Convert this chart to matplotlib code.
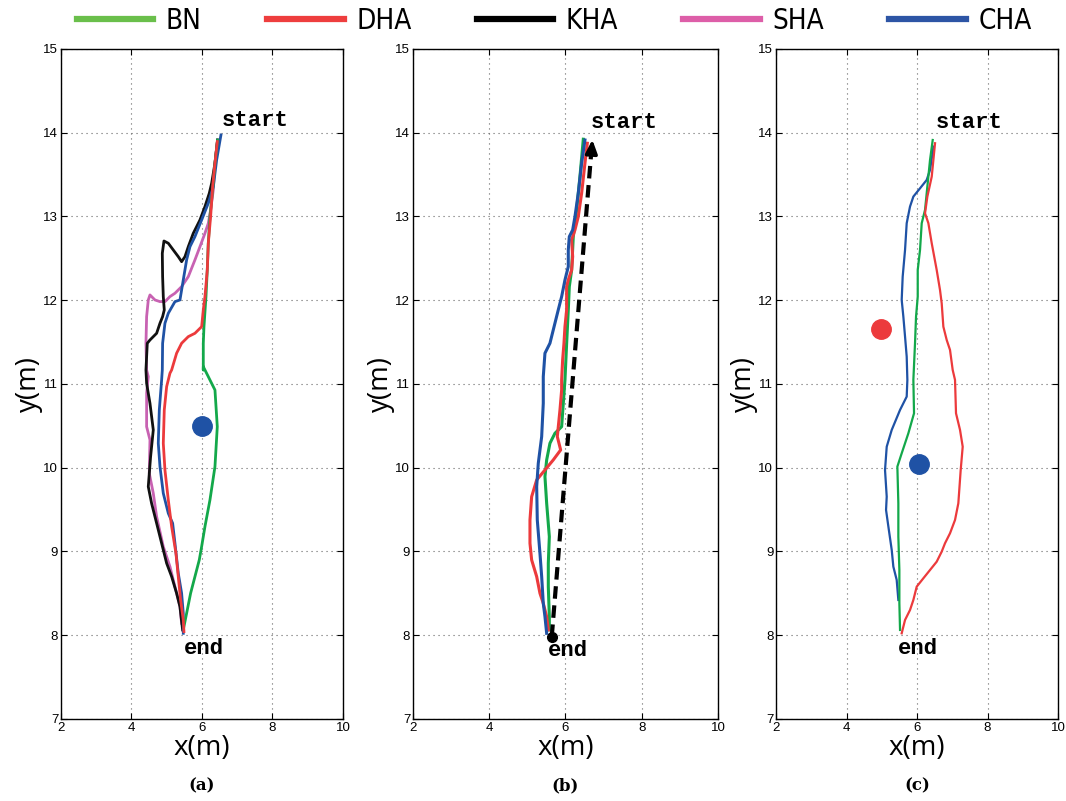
import numpy as np
import matplotlib.pyplot as plt
from matplotlib.lines import Line2D

# colours
c_bn = '#13a84a'
c_dha = '#ec3a3c'
c_kha = '#111111'
c_sha = '#c862b2'
c_cha = '#1f52a5'

# ---- panel (a) trajectories (x, y in metres) ----
a_bn_x = [6.443, 6.369, 6.303, 6.227, 6.180, 6.151, 6.114, 6.057, 6.038, 6.038, 6.038, 6.369, 6.435, 6.369,
          6.227, 6.085, 5.991, 5.924, 5.801, 5.678, 5.565, 5.489]
a_bn_y = [13.913, 13.635, 13.316, 12.998, 12.680, 12.361, 12.043, 11.684, 11.486, 11.167, 11.207, 10.928, 10.490,
          10.013, 9.615, 9.297, 9.058, 8.899, 8.700, 8.501, 8.262, 8.103]

a_dha_x = [6.435, 6.369, 6.303, 6.246, 6.180, 6.151, 6.085, 6.038, 5.991, 5.801, 5.612, 5.423, 5.281, 5.140,
           5.092, 4.998, 4.931, 4.903, 4.950, 5.045, 5.140, 5.262, 5.328, 5.394, 5.470, 5.489]
a_dha_y = [13.894, 13.635, 13.356, 12.998, 12.680, 12.361, 12.043, 11.884, 11.684, 11.605, 11.565, 11.486, 11.367,
           11.167, 11.128, 10.968, 10.690, 10.292, 9.973, 9.615, 9.297, 8.978, 8.700, 8.421, 8.182, 8.043]

a_kha_x = [6.443, 6.369, 6.275, 6.208, 6.085, 5.943, 5.754, 5.612, 5.518, 5.423, 5.328, 5.186, 5.045, 4.922,
           4.875, 4.884, 4.903, 4.931, 4.884, 4.809, 4.714, 4.525, 4.449, 4.411, 4.430, 4.525, 4.619, 4.543,
           4.477, 4.571, 4.714, 4.856, 4.998, 5.140, 5.281, 5.376, 5.451]
a_kha_y = [13.913, 13.635, 13.396, 13.277, 13.118, 12.958, 12.799, 12.639, 12.520, 12.460, 12.520, 12.600, 12.680,
           12.707, 12.560, 12.281, 12.043, 11.884, 11.804, 11.725, 11.605, 11.525, 11.486, 11.167, 11.008, 10.769,
           10.451, 10.132, 9.774, 9.575, 9.337, 9.098, 8.859, 8.700, 8.501, 8.341, 8.063]

a_sha_x = [6.443, 6.369, 6.322, 6.246, 6.180, 6.085, 5.943, 5.801, 5.612, 5.423, 5.234, 5.092, 4.950, 4.809,
           4.667, 4.525, 4.477, 4.430, 4.411, 4.430, 4.477, 4.430, 4.430, 4.525, 4.505, 4.619, 4.714, 4.903,
           5.092, 5.186, 5.281, 5.376, 5.423]
a_sha_y = [13.913, 13.635, 13.316, 13.078, 12.919, 12.799, 12.639, 12.481, 12.281, 12.162, 12.083, 12.043, 11.983,
           11.983, 12.003, 12.063, 12.003, 11.804, 11.486, 11.167, 11.087, 10.889, 10.490, 10.332, 9.934, 9.695,
           9.416, 9.058, 8.819, 8.660, 8.501, 8.341, 8.142]

a_cha_x = [6.539, 6.417, 6.322, 6.180, 5.991, 5.801, 5.660, 5.565, 5.470, 5.376, 5.234, 5.045, 4.950, 4.884,
           4.875, 4.856, 4.790, 4.761, 4.809, 4.903, 5.045, 5.168, 5.234, 5.328, 5.423, 5.470, 5.470]
a_cha_y = [13.973, 13.675, 13.356, 13.158, 12.958, 12.759, 12.639, 12.481, 12.242, 12.003, 11.983, 11.844, 11.725,
           11.486, 11.167, 11.048, 10.690, 10.292, 10.013, 9.695, 9.456, 9.337, 9.098, 8.740, 8.501, 8.262, 8.023]

a_dot = (6.0, 10.5)

# ---- panel (b) ----
b_bn_x = [6.468, 6.380, 6.293, 6.205, 6.162, 6.101, 6.074, 6.031, 5.987, 5.943, 5.900, 5.724, 5.593, 5.507,
          5.462, 5.507, 5.577, 5.550, 5.550, 5.577, 5.577]
b_bn_y = [13.922, 13.475, 13.078, 12.759, 12.361, 12.162, 11.884, 11.486, 11.048, 10.769, 10.490, 10.411, 10.292,
          10.093, 9.894, 9.575, 9.177, 8.859, 8.580, 8.222, 8.063]

b_dha_x = [6.573, 6.511, 6.424, 6.336, 6.249, 6.162, 6.189, 6.162, 6.074, 6.031, 6.031, 5.987, 5.961, 5.926,
           5.900, 5.900, 5.856, 5.786, 5.874, 5.680, 5.462, 5.245, 5.113, 5.069, 5.069, 5.113, 5.245, 5.331,
           5.418, 5.507, 5.550]
b_dha_y = [13.874, 13.635, 13.277, 12.998, 12.839, 12.719, 12.520, 12.361, 12.242, 12.162, 11.884, 11.684, 11.486,
           11.287, 11.048, 10.928, 10.690, 10.371, 10.212, 10.093, 9.973, 9.854, 9.654, 9.376, 9.098, 8.899, 8.700,
           8.501, 8.381, 8.222, 8.063]

b_cha_x = [6.511, 6.424, 6.336, 6.249, 6.189, 6.101, 6.074, 6.074, 5.987, 5.900, 5.811, 5.680, 5.593, 5.462,
           5.418, 5.418, 5.376, 5.287, 5.245, 5.261, 5.331, 5.376, 5.418, 5.462, 5.507]
b_cha_y = [13.913, 13.635, 13.277, 12.998, 12.839, 12.759, 12.600, 12.401, 12.242, 12.043, 11.884, 11.645, 11.486,
           11.367, 11.087, 10.769, 10.371, 10.053, 9.774, 9.376, 8.978, 8.700, 8.381, 8.222, 8.023]

b_arrow_start = (5.64, 7.98)
b_arrow_end = (6.71, 13.95)

# ---- panel (c) ----
c_bn_x = [6.445, 6.369, 6.293, 6.227, 6.133, 6.085, 6.020, 6.020, 5.972, 5.943, 5.896, 5.915, 5.754, 5.565,
          5.442, 5.470, 5.470, 5.499, 5.499, 5.518]
c_bn_y = [13.913, 13.675, 13.356, 13.078, 12.919, 12.600, 12.361, 12.043, 11.804, 11.486, 11.048, 10.650, 10.411,
          10.172, 10.013, 9.575, 9.177, 8.779, 8.381, 8.063]

c_dha_x = [6.511, 6.417, 6.293, 6.227, 6.322, 6.417, 6.558, 6.652, 6.700, 6.747, 6.842, 6.936, 7.012, 7.078,
           7.106, 7.220, 7.296, 7.239, 7.172, 7.078, 6.936, 6.794, 6.700, 6.558, 6.369, 6.180, 5.991, 5.896,
           5.801, 5.660, 5.565]
c_dha_y = [13.874, 13.475, 13.237, 13.038, 12.919, 12.680, 12.361, 12.122, 11.963, 11.684, 11.525, 11.406, 11.167,
           11.048, 10.650, 10.451, 10.251, 9.973, 9.575, 9.376, 9.217, 9.098, 8.998, 8.878, 8.779, 8.680, 8.580,
           8.421, 8.301, 8.182, 8.023]

c_cha_x = [6.468, 6.369, 6.275, 6.085, 5.896, 5.801, 5.707, 5.660, 5.593, 5.565, 5.612, 5.660, 5.707, 5.726,
           5.707, 5.518, 5.282, 5.140, 5.092, 5.140, 5.121, 5.187, 5.282, 5.328, 5.423, 5.470]
c_cha_y = [13.834, 13.555, 13.436, 13.336, 13.237, 13.118, 12.919, 12.600, 12.281, 12.003, 11.804, 11.565, 11.326,
           11.048, 10.849, 10.690, 10.451, 10.251, 9.973, 9.654, 9.496, 9.297, 9.018, 8.819, 8.660, 8.421]

c_red_dot = (4.97, 11.66)
c_blue_dot = (6.07, 10.04)

# label positions for start / end text
start_pos = [(7.50, 14.14), (7.53, 14.12), (7.47, 14.12)]
end_pos = [(6.06, 7.84), (6.07, 7.82), (6.03, 7.84)]

legend_names = ['BN', 'DHA', 'KHA', 'SHA', 'CHA']
legend_colors = ['#6abf4b', '#ee3e3e', '#000000', '#dd5ea8', '#2d55a5']

xticks = [2, 4, 6, 8, 10]
yticks = [7, 8, 9, 10, 11, 12, 13, 14, 15]
captions = ['(a)', '(b)', '(c)']


fig = plt.figure(figsize=(10.66, 8.01), dpi=100)
ax_a = fig.add_axes([0.0572, 0.1024, 0.2645, 0.8365])
ax_b = fig.add_axes([0.3874, 0.1024, 0.2861, 0.8365])
ax_c = fig.add_axes([0.7280, 0.1024, 0.2645, 0.8365])
axes = [ax_a, ax_b, ax_c]

lw = 2.0
ax_a.plot(a_sha_x, a_sha_y, color=c_sha, lw=lw)
ax_a.plot(a_kha_x, a_kha_y, color=c_kha, lw=lw)
ax_a.plot(a_cha_x, a_cha_y, color=c_cha, lw=lw)
ax_a.plot(a_bn_x, a_bn_y, color=c_bn, lw=lw)
ax_a.plot(a_dha_x, a_dha_y, color=c_dha, lw=lw)
ax_a.plot(*a_dot, 'o', color=c_cha, ms=14)

ax_b.plot(b_bn_x, b_bn_y, color=c_bn, lw=2.2)
ax_b.plot(b_dha_x, b_dha_y, color=c_dha, lw=2.2)
ax_b.plot(b_cha_x, b_cha_y, color=c_cha, lw=2.2)
# dashed straight path with a solid head
tip_y = b_arrow_end[1] - 0.2
frac = (tip_y - b_arrow_start[1]) / (b_arrow_end[1] - b_arrow_start[1])
tip_x = b_arrow_start[0] + frac * (b_arrow_end[0] - b_arrow_start[0])
ax_b.plot([b_arrow_start[0], tip_x], [b_arrow_start[1], tip_y], color='black', lw=3, ls=(0, (3, 1.6)))
ax_b.annotate('', xy=b_arrow_end, xytext=(tip_x, tip_y - 0.05),
              arrowprops=dict(arrowstyle='-|>,head_length=0.8,head_width=0.35', color='black', lw=2.5))
ax_b.plot(*b_arrow_start, 'o', color='black', ms=7)

ax_c.plot(c_cha_x, c_cha_y, color=c_cha, lw=1.6)
ax_c.plot(c_bn_x, c_bn_y, color=c_bn, lw=1.6)
ax_c.plot(c_dha_x, c_dha_y, color=c_dha, lw=1.6)
ax_c.plot(*c_red_dot, 'o', color=c_dha, ms=14)
ax_c.plot(*c_blue_dot, 'o', color=c_cha, ms=14)

for i, ax in enumerate(axes):
    ax.set_xlim(2, 10)
    ax.set_ylim(7, 15)
    ax.set_xticks(xticks)
    ax.set_yticks(yticks)
    ax.tick_params(direction='in', top=True, right=True, length=4, labelsize=9.5, pad=2)
    for lab in ax.get_xticklabels() + ax.get_yticklabels():
        lab.set_family('Liberation Sans')
    ax.grid(True, ls=(0, (1, 3.5)), color='#666666', lw=0.8)
    for sp in ax.spines.values():
        sp.set_linewidth(1.0)
    ax.set_xlabel('x(m)', fontsize=20, family='Open Sans', labelpad=0)
    ax.set_ylabel('y(m)', fontsize=20, family='Open Sans', labelpad=0)
    ax.text(*start_pos[i], 'start', family='Liberation Mono', weight='bold', fontsize=16,
            ha='center', va='center')
    ax.text(*end_pos[i], 'end', family='Liberation Mono', weight='bold', fontsize=16,
            ha='center', va='center')
    ax.text(0.5, -0.1, captions[i], transform=ax.transAxes, ha='center', va='center',
            family='DejaVu Serif', weight='bold', fontsize=12)

handles = [Line2D([0], [0], color=c, lw=4.5) for c in legend_colors]
fig.legend(handles, legend_names, loc='center', bbox_to_anchor=(0.52, 0.974), ncol=5, frameon=False,
           prop={'family': 'DejaVu Sans', 'stretch': 'condensed', 'size': 20},
           handlelength=2.75, handletextpad=0.45, columnspacing=2.35)

fig.savefig('out.png', dpi=100)
